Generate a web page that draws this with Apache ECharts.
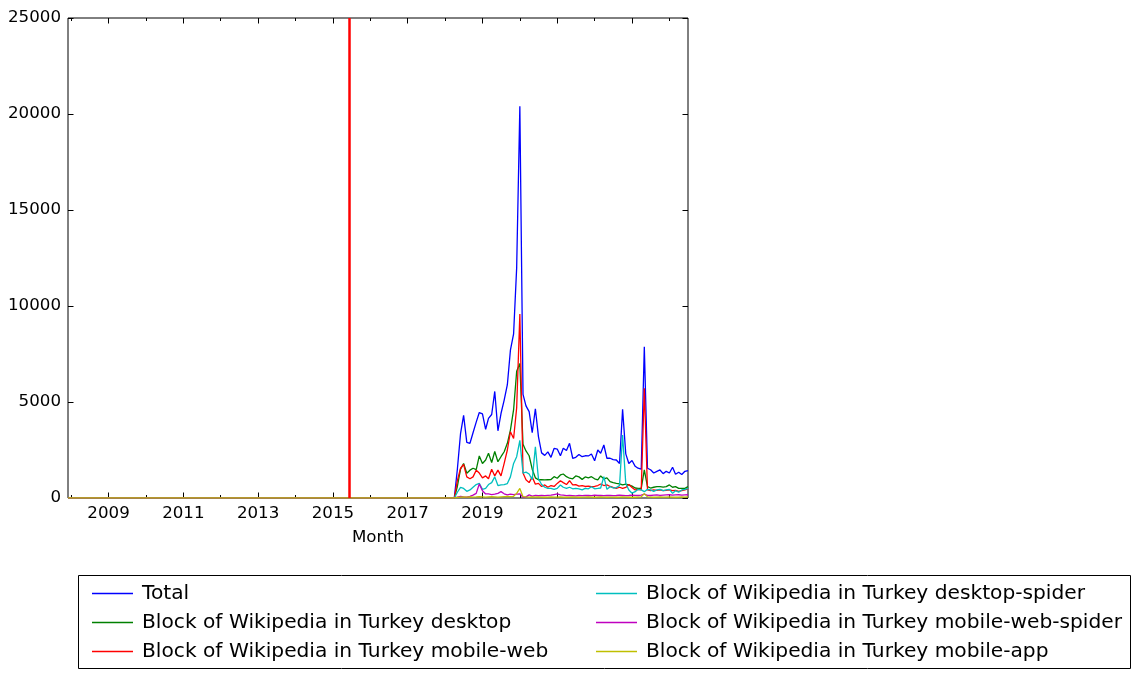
<!DOCTYPE html>
<html>
<head>
<meta charset="utf-8">
<script src="https://cdn.jsdelivr.net/npm/echarts@6/dist/echarts.min.js"></script>
<style>
  html, body { margin: 0; padding: 0; background: #fff; }
  #chart { width: 1141px; height: 679px; }
</style>
</head>
<body>
<div id="chart"></div>
<script>
// Series before 2018 are flat at zero: one anchor point at the axis start
const zeroStart = '2007-12';
const lastMonth = '2024-07';
const markerDate = '2015-06-10';

// Monthly values from 2018-01 to 2024-07
const total = [
  0, 0, 0, 0, 1500, 3350, 4300, 2900, 2850, 3400, 3950, 4450,
  4380, 3580, 4150, 4350, 5550, 3500, 4400, 5100, 5900, 7700, 8550, 12000,
  20400, 5400, 4800, 4500, 3400, 4650, 3200, 2350, 2220, 2400, 2120, 2580,
  2550, 2200, 2590, 2470, 2850, 2070, 2120, 2270, 2150, 2200, 2190, 2290,
  1940, 2500, 2330, 2760, 2070, 2070, 2000, 1980, 1800, 4620, 2300, 1800,
  1950, 1650, 1550, 1500, 7880, 1550, 1470, 1300, 1390, 1460, 1270, 1390,
  1300, 1600, 1240, 1340, 1220, 1390, 1430
];
const desktop = [
  0, 0, 0, 0, 600, 1500, 1800, 1290, 1450, 1550, 1480, 2190,
  1800, 1980, 2330, 1850, 2420, 1890, 2150, 2410, 2850, 3540, 4600, 6600,
  7000, 2800, 2450, 2200, 1500, 1050, 950, 950, 940, 950, 960, 1110,
  1030, 1200, 1250, 1110, 1030, 1000, 1150, 1100, 970, 1100, 1050, 1110,
  1000, 940, 1150, 1000, 1050, 850, 800, 760, 740, 680, 720, 680,
  620, 520, 500, 500, 1460, 590, 520, 560, 590, 590, 570, 590,
  680, 560, 590, 500, 500, 500, 590
];
const mobileWeb = [
  0, 0, 0, 0, 900, 1550, 1750, 1100, 1000, 1100, 1450, 1300,
  1050, 1150, 1000, 1500, 1150, 1450, 1150, 1800, 2500, 3450, 3100, 4700,
  9580, 1300, 950, 800, 1100, 720, 760, 600, 680, 560, 650, 600,
  760, 900, 800, 700, 900, 680, 700, 620, 650, 600, 620, 590,
  600, 650, 730, 650, 680, 600, 550, 500, 560, 500, 550, 700,
  550, 420, 450, 420, 5710, 420, 380, 420, 400, 420, 380, 400,
  420, 380, 400, 350, 380, 420, 480
];
const desktopSpider = [
  0, 0, 0, 0, 300, 550, 500, 350, 420, 560, 700, 760,
  450, 500, 700, 800, 1100, 650, 680, 700, 750, 1100, 1800, 2150,
  3000, 1300, 1350, 1250, 950, 2670, 1000, 700, 560, 500, 500, 450,
  500, 680, 560, 500, 560, 480, 500, 480, 420, 500, 480, 590,
  480, 500, 520, 1110, 450, 590, 520, 540, 650, 3280, 760, 420,
  250, 330, 450, 420, 330, 450, 420, 350, 420, 450, 380, 420,
  450, 240, 380, 300, 420, 450, 500
];
const mobileWebSpider = [
  0, 0, 0, 0, 50, 80, 60, 40, 80, 150, 240, 730,
  380, 210, 210, 180, 200, 240, 330, 220, 160, 200, 180, 200,
  220, 40, 60, 160, 100, 140, 120, 130, 120, 140, 150, 180,
  210, 160, 150, 120, 130, 120, 110, 130, 120, 140, 130, 120,
  150, 130, 140, 120, 130, 140, 120, 130, 150, 140, 120, 130,
  150, 140, 130, 150, 200, 140, 130, 150, 160, 140, 150, 160,
  170, 150, 160, 170, 150, 160, 170
];
const mobileApp = [
  0, 0, 0, 0, 30, 50, 60, 50, 60, 50, 60, 70,
  60, 50, 60, 70, 60, 50, 60, 70, 80, 70, 90, 240,
  500, 70, 60, 50, 60, 50, 60, 50, 40, 50, 60, 50,
  50, 60, 50, 40, 50, 60, 50, 40, 50, 50, 60, 50,
  40, 50, 60, 50, 40, 50, 50, 40, 50, 60, 50, 40,
  50, 40, 50, 60, 230, 60, 50, 40, 50, 60, 50, 50,
  60, 50, 40, 50, 60, 50, 60
];

const seriesNames = [
  'Total',
  'Block of Wikipedia in Turkey desktop',
  'Block of Wikipedia in Turkey mobile-web',
  'Block of Wikipedia in Turkey desktop-spider',
  'Block of Wikipedia in Turkey mobile-web-spider',
  'Block of Wikipedia in Turkey mobile-app'
];
const seriesValues = [total, desktop, mobileWeb, desktopSpider, mobileWebSpider, mobileApp];
const seriesColors = ['#0000ff', '#008000', '#ff0000', '#00bfbf', '#bf00bf', '#bfbf00'];

const oddYears = [2009, 2011, 2013, 2015, 2017, 2019, 2021, 2023];
const evenYears = [2008, 2010, 2012, 2014, 2016, 2018, 2020, 2022, 2024];

// Month labels 2018-01 .. 2024-07
const months = [];
for (let y = 2018; y <= 2024; y++) {
  for (let m = 1; m <= 12; m++) {
    const key = `${y}-${String(m).padStart(2, '0')}`;
    months.push(key);
    if (key === lastMonth) break;
  }
}

// Fecha -> año decimal
function toYear(s) {
  const [y, m, d] = s.split('-').map(Number);
  const start = Date.UTC(y, 0, 1);
  const end = Date.UTC(y + 1, 0, 1);
  return y + (Date.UTC(y, m - 1, d || 1) - start) / (end - start);
}

const FONT = 'DejaVu Sans';
const xMin = toYear(zeroStart);
const xMax = toYear(lastMonth);

function xAx(position, values, len, withLabels) {
  const ax = {
    type: 'value',
    min: xMin,
    max: xMax,
    position: position,
    axisLine: { show: false },
    splitLine: { show: false },
    axisTick: {
      show: true, inside: true, length: len, customValues: values,
      lineStyle: { color: '#000', width: 1 }
    },
    axisLabel: { show: false }
  };
  if (withLabels) {
    ax.axisLabel = {
      show: true, customValues: values, formatter: v => String(v),
      fontFamily: FONT, fontSize: 16.67, color: '#000', margin: 7
    };
    ax.name = 'Month';
    ax.nameLocation = 'middle';
    ax.nameGap = 31;
    ax.nameTextStyle = { fontFamily: FONT, fontSize: 16.67, color: '#000' };
  }
  return ax;
}

function yAx(position, withLabels) {
  return {
    type: 'value',
    min: 0,
    max: 25000,
    interval: 5000,
    position: position,
    axisLine: { show: false },
    splitLine: { show: false },
    axisTick: { show: true, inside: true, length: 5.5, lineStyle: { color: '#000', width: 1 } },
    axisLabel: withLabels
      ? { show: true, formatter: v => String(v), fontFamily: FONT, fontSize: 16.67, color: '#000', margin: 7 }
      : { show: false }
  };
}

const series = seriesNames.map((name, i) => ({
  name: name,
  type: 'line',
  xAxisIndex: 0,
  yAxisIndex: 0,
  showSymbol: false,
  symbol: 'none',
  animation: false,
  color: seriesColors[i],
  lineStyle: { color: seriesColors[i], width: 1.3 },
  data: [[xMin, 0]].concat(months.map((m, j) => [toYear(m), seriesValues[i][j]]))
}));

// Línea vertical roja
series[series.length - 1].markLine = {
  silent: true,
  symbol: 'none',
  animation: false,
  label: { show: false },
  lineStyle: { color: '#ff0000', width: 2.5, type: 'solid' },
  data: [{ xAxis: toYear(markerDate) }]
};

function legendBlock(names, left) {
  return {
    orient: 'vertical',
    left: left,
    top: 582,
    padding: 0,
    itemGap: 6,
    itemWidth: 41,
    itemHeight: 1.5,
    icon: 'rect',
    data: names,
    textStyle: { fontFamily: FONT, fontSize: 20.2, color: '#000', lineHeight: 23, padding: [0, 0, 0, 4] }
  };
}

const option = {
  backgroundColor: '#fff',
  animation: false,
  grid: {
    left: 68, right: 453, top: 18, bottom: 181,
    show: true, borderColor: '#000', borderWidth: 1, backgroundColor: '#fff'
  },
  xAxis: [
    xAx('bottom', oddYears, 5.5, true),
    xAx('bottom', evenYears, 3, false),
    xAx('top', oddYears, 5.5, false),
    xAx('top', evenYears, 3, false)
  ],
  yAxis: [yAx('left', true), yAx('right', false)],
  legend: [
    legendBlock(seriesNames.slice(0, 3), 92),
    legendBlock(seriesNames.slice(3), 596)
  ],
  graphic: [{
    type: 'rect',
    z: 100,
    shape: { x: 78.5, y: 575.5, width: 1052, height: 93 },
    style: { fill: 'none', stroke: '#000', lineWidth: 1 },
    silent: true
  }],
  series: series
};

const chart = echarts.init(document.getElementById('chart'));
chart.setOption(option);
</script>
</body>
</html>
